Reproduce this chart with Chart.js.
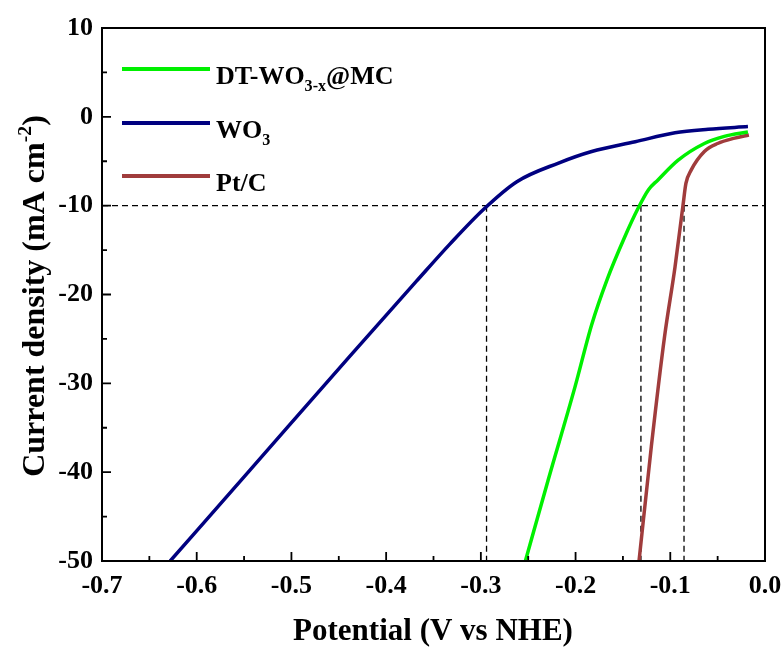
<!DOCTYPE html>
<html>
<head>
<meta charset="utf-8">
<script src="https://cdn.jsdelivr.net/npm/chart.js@4.4.1/dist/chart.umd.min.js"></script>
<style>
  html, body { margin: 0; padding: 0; background: #fff; }
  canvas { display: block; }
</style>
</head>
<body>
<canvas id="chart" width="784" height="655"></canvas>
<script>
// LSV polarization curves
const seriesLabels = ['DT-WO_{3-x}@MC', 'WO_{3}', 'Pt/C'];
const seriesColors = ['#00f000', '#000080', '#a03c3c'];

const dtPotential = [-0.253, -0.229, -0.2006, -0.183, -0.167, -0.148, -0.134, -0.123, -0.113, -0.092, -0.064, -0.043, -0.018];
const dtCurrent   = [-50, -40.9, -30.4, -23.4, -18.4, -13.5, -10.3, -8.2, -7.1, -4.9, -3.0, -2.2, -1.7];

const wo3Potential = [-0.628, -0.544, -0.438, -0.368, -0.3325, -0.297, -0.262, -0.218, -0.183, -0.137, -0.095, -0.060, -0.018];
const wo3Current   = [-50, -39.8, -26.9, -18.5, -14.3, -10.4, -7.3, -5.2, -3.9, -2.8, -1.8, -1.4, -1.1];

const ptPotential = [-0.133, -0.120, -0.106, -0.095, -0.0865, -0.0835, -0.078, -0.064, -0.050, -0.032, -0.017];
const ptCurrent   = [-50, -37.1, -24.7, -16.9, -9.9, -7.5, -6.0, -3.9, -3.0, -2.4, -2.05];

// potentials where each curve reaches -10 mA cm-2
const refCurrent = -10;
const overpotentials = [-0.294, -0.131, -0.0855];

const xMin = -0.7, xMax = 0.0, xStep = 0.1;
const yMin = -50, yMax = 10, yStep = 10;

const FONT = '"Liberation Serif", "Times New Roman", serif';

function toPoints(xs, ys) {
  return xs.map((x, i) => ({ x: x, y: ys[i] }));
}

// text with _{sub} and ^{sup}
function richText(ctx, str, x, y, size, measureOnly) {
  const parts = str.split(/(_\{[^}]*\}|\^\{[^}]*\})/).filter(Boolean);
  let cx = x;
  for (const p of parts) {
    let txt = p, sz = size, dy = 0;
    if (p[0] === '_') { txt = p.slice(2, -1); sz = size * 0.62; dy = size * 0.26; }
    else if (p[0] === '^') { txt = p.slice(2, -1); sz = size * 0.62; dy = -size * 0.42; }
    ctx.font = 'bold ' + sz + 'px ' + FONT;
    if (!measureOnly) ctx.fillText(txt, cx, y + dy);
    cx += ctx.measureText(txt).width;
  }
  return cx - x;
}

const curveStyle = {
  showLine: true,
  pointRadius: 0,
  borderWidth: 3.5,
  cubicInterpolationMode: 'monotone'
};
const guideStyle = {
  showLine: true,
  pointRadius: 0,
  borderWidth: 1.3,
  borderColor: '#000',
  borderDash: [6, 4]
};

const datasets = [
  { label: seriesLabels[0], data: toPoints(dtPotential, dtCurrent), borderColor: seriesColors[0], ...curveStyle },
  { label: seriesLabels[1], data: toPoints(wo3Potential, wo3Current), borderColor: seriesColors[1], ...curveStyle },
  { label: seriesLabels[2], data: toPoints(ptPotential, ptCurrent), borderColor: seriesColors[2], ...curveStyle },
  { label: 'guide', data: [{ x: xMin, y: refCurrent }, { x: xMax, y: refCurrent }], ...guideStyle }
];
overpotentials.forEach(v => {
  datasets.push({ label: 'guide', data: [{ x: v, y: refCurrent }, { x: v, y: yMin }], ...guideStyle });
});

// frame, inward ticks, titles and legend
const decor = {
  id: 'decor',
  afterDraw(chart) {
    const ctx = chart.ctx;
    const a = chart.chartArea;
    const xs = chart.scales.x, ys = chart.scales.y;
    ctx.save();
    ctx.strokeStyle = '#000';
    ctx.lineWidth = 2;
    ctx.strokeRect(a.left, a.top, a.right - a.left, a.bottom - a.top);

    ctx.lineWidth = 1.8;
    ctx.beginPath();
    for (let i = 0; i <= Math.round((xMax - xMin) / (xStep / 2)); i++) {
      const px = xs.getPixelForValue(xMin + i * xStep / 2);
      const len = i % 2 === 0 ? 9 : 5;
      ctx.moveTo(px, a.bottom);
      ctx.lineTo(px, a.bottom - len);
    }
    for (let i = 0; i <= Math.round((yMax - yMin) / (yStep / 2)); i++) {
      const py = ys.getPixelForValue(yMin + i * yStep / 2);
      const len = i % 2 === 0 ? 9 : 5;
      ctx.moveTo(a.left, py);
      ctx.lineTo(a.left + len, py);
    }
    ctx.stroke();

    ctx.fillStyle = '#000';
    ctx.textBaseline = 'alphabetic';
    ctx.textAlign = 'left';

    // x title
    const xt = 'Potential (V vs NHE)';
    const xw = richText(ctx, xt, 0, 0, 31, true);
    richText(ctx, xt, 433 - xw / 2, 640, 31);

    // y title
    const yt = 'Current density (mA cm^{-2})';
    const yw = richText(ctx, yt, 0, 0, 32, true);
    ctx.save();
    ctx.translate(44, 296);
    ctx.rotate(-Math.PI / 2);
    richText(ctx, yt, -yw / 2, 0, 32);
    ctx.restore();

    // legend
    const rows = [69, 123, 176];
    seriesLabels.forEach((lab, i) => {
      ctx.strokeStyle = seriesColors[i];
      ctx.lineWidth = 4;
      ctx.beginPath();
      ctx.moveTo(122, rows[i]);
      ctx.lineTo(210, rows[i]);
      ctx.stroke();
      ctx.fillStyle = '#000';
      richText(ctx, lab, 216, rows[i] + 15, 26);
    });
    ctx.restore();
  }
};

new Chart(document.getElementById('chart'), {
  type: 'scatter',
  data: { datasets: datasets },
  options: {
    responsive: false,
    animation: false,
    devicePixelRatio: 1,
    layout: { padding: { top: 28, right: 19, left: 0, bottom: 0 } },
    plugins: { legend: { display: false }, tooltip: { enabled: false } },
    scales: {
      x: {
        type: 'linear',
        min: xMin, max: xMax,
        grid: { display: false, drawTicks: false },
        border: { display: false },
        ticks: {
          stepSize: xStep,
          padding: 10,
          color: '#000',
          maxRotation: 0,
          font: { family: FONT, size: 26, weight: 'bold' },
          callback: v => v.toFixed(1)
        },
        afterFit: s => { s.height = 94; s.paddingLeft = 0; s.paddingRight = 0; }
      },
      y: {
        type: 'linear',
        min: yMin, max: yMax,
        grid: { display: false, drawTicks: false },
        border: { display: false },
        ticks: {
          stepSize: yStep,
          padding: 9,
          color: '#000',
          font: { family: FONT, size: 26, weight: 'bold' }
        },
        afterFit: s => { s.width = 102; s.paddingTop = 0; s.paddingBottom = 0; }
      }
    }
  },
  plugins: [decor]
});
</script>
</body>
</html>
